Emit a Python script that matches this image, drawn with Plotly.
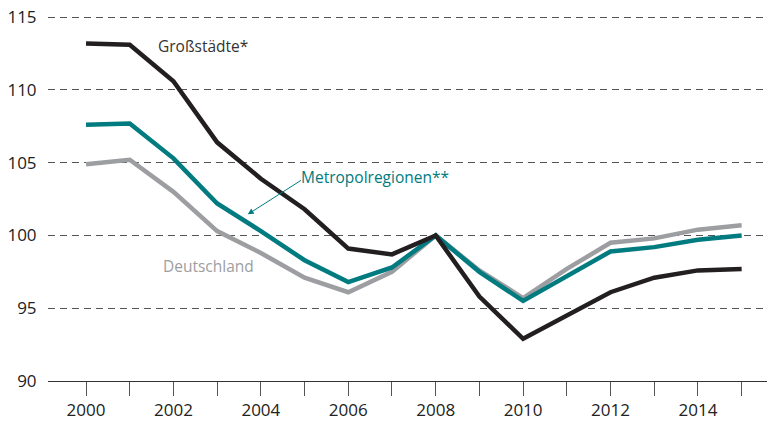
import plotly.graph_objects as go

years = list(range(2000, 2016))
grossstaedte = [113.2, 113.1, 110.6, 106.4, 103.9, 101.8, 99.1, 98.7, 100.0, 95.8, 92.9, 94.5, 96.1, 97.1, 97.6, 97.7]
metropol = [107.6, 107.7, 105.3, 102.2, 100.3, 98.3, 96.8, 97.8, 100.0, 97.5, 95.5, 97.2, 98.9, 99.2, 99.7, 100.0]
deutschland = [104.9, 105.2, 103.0, 100.3, 98.8, 97.1, 96.1, 97.5, 100.0, 97.6, 95.7, 97.7, 99.5, 99.8, 100.4, 100.7]

x_tickvals = [2000, 2002, 2004, 2006, 2008, 2010, 2012, 2014]
y_tickvals = [90, 95, 100, 105, 110, 115]

BLACK = "#231f20"
TEAL = "#007b80"
GREY = "#9d9ea1"

fig = go.Figure()
fig.add_trace(go.Scatter(x=years, y=deutschland, mode="lines", line=dict(color=GREY, width=4.5), name="Deutschland"))
fig.add_trace(go.Scatter(x=years, y=metropol, mode="lines", line=dict(color=TEAL, width=4.5), name="Metropolregionen"))
fig.add_trace(go.Scatter(x=years, y=grossstaedte, mode="lines", line=dict(color=BLACK, width=4.5), name="Großstädte"))

font = "Open Sans"
fig.update_layout(
    width=775, height=425,
    margin=dict(l=48, r=8, t=15, b=44),
    paper_bgcolor="white", plot_bgcolor="white",
    showlegend=False,
    font=dict(family=font, size=17, color="#333"),
    xaxis=dict(
        range=[1999.13, 2015.58],
        tickvals=x_tickvals,
        automargin=False,
        ticklabeloverflow="allow",
        ticks="outside", ticklen=14, tickcolor="#555", tickwidth=1,
        minor=dict(dtick=1, ticks="outside", ticklen=14, tickcolor="#555", tickwidth=1, showgrid=False),
        showgrid=False, zeroline=False,
        showline=True, linecolor="#333", linewidth=1,
        tickfont=dict(size=17, color="#222"),
    ),
    yaxis=dict(
        range=[90, 115.15],
        tickvals=y_tickvals,
        automargin=False,
        ticklabeloverflow="allow",
        showgrid=True, gridcolor="#555", gridwidth=1, griddash="7px,5px",
        zeroline=False, showline=False,
        ticks="outside", ticklen=7, tickcolor="rgba(0,0,0,0)",
        tickfont=dict(size=17, color="#222"),
    ),
    annotations=[
        dict(x=2002.68, y=113.0, text="Großstädte*", showarrow=False, font=dict(size=15.5, color="#333", family=font)),
        dict(x=2006.6, y=104.0, text="Metropolregionen**", showarrow=False, font=dict(size=15.5, color=TEAL, family=font)),
        dict(x=2002.8, y=97.9, text="Deutschland", showarrow=False, font=dict(size=15.5, color=GREY, family=font)),
        dict(x=2003.7, y=101.45, ax=2004.95, ay=103.85, axref="x", ayref="y", xref="x", yref="y",
             text="", showarrow=True, arrowhead=2, arrowsize=1.2, arrowwidth=1, arrowcolor=TEAL),
    ],
)

fig.write_html("out.html", config={"displayModeBar": False},
               post_script="document.body.style.margin='0px';")
